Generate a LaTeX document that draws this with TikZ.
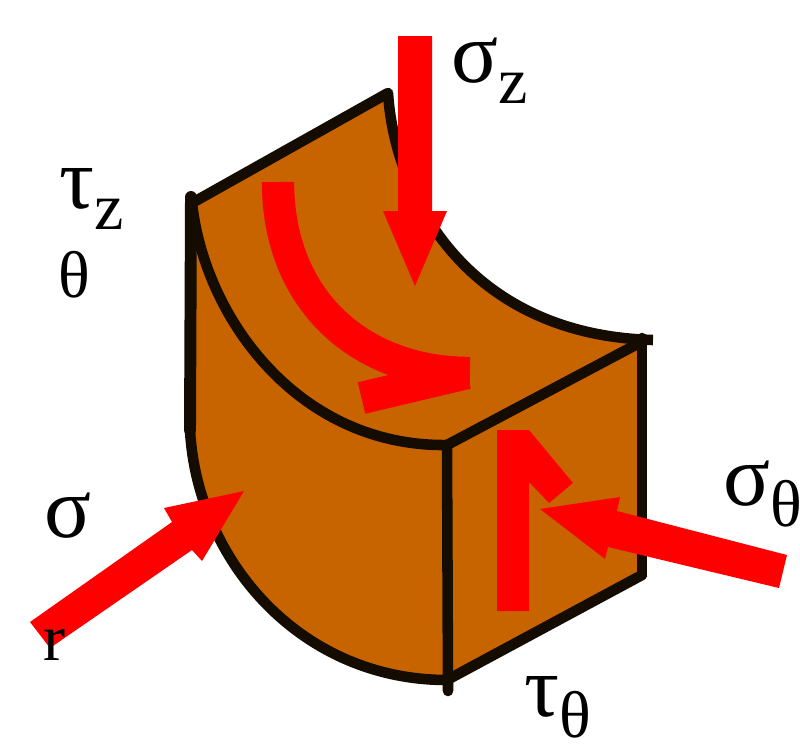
\documentclass[tikz,border=0pt]{standalone}
\usepackage{fontspec}
\setmainfont{Liberation Serif}
\usepackage{tikz}
\usepackage{tkz-euclide}
\usepackage{xcolor}
\definecolor{clay}{HTML}{C86400}
\definecolor{edgeblack}{HTML}{140C00}
\newcommand{\bigtxt}{\fontsize{62}{62}\selectfont}
\newcommand{\subtxt}[1]{\raisebox{-15pt}{\fontsize{47}{47}\selectfont #1}}
\tikzset{
  edge/.style={edgeblack, line width=7.5pt},
  face/.style={fill=clay, draw=none},
  force/.style={fill=red, draw=none},
  stress/.style={inner sep=0pt, anchor=base west}
}
\begin{document}
\begin{tikzpicture}[x=0.025cm, y=-0.025cm]
            \useasboundingbox (0,0) rectangle (800,744);
            \tkzDefPoints{192/203/A, 388/93/B, 645/340/C, 447/445/D, 190/430/E, 447/680/F, 642/575/G, 642/338/H, 448/691/I, 191/197/J}
            \fill[face] (A) -- (B) .. controls (395,200) and (470,335) .. (C) -- (D) .. controls (300,447) and (205,320) .. (A) -- cycle;
            \fill[face] (A) .. controls (205,320) and (300,447) .. (D) -- (F) .. controls (300,680) and (197,560) .. (E) -- cycle;
            \fill[face] (D) -- (H) -- (G) -- (F) -- cycle;
            \tkzDrawSegments[edge](A,B D,C H,G G,F D,I)
            \tkzDrawSegments[edge, line width=8.5pt](J,E)
            \draw[edge] (B) .. controls (395,200) and (470,335) .. (653,340);
            \draw[edge] (A) .. controls (205,320) and (300,447) .. (D);
            \draw[edge] (E) .. controls (197,560) and (300,680) .. (F);
            % arrows
            \fill[force] (398,36) -- (432,36) -- (432,211) -- (447,211) -- (415,286) -- (383,211) -- (398,211) -- cycle;
            \draw[red, line width=23pt] (278,182) .. controls (278,300) and (360,373) .. (470,373);
            \draw[red, line width=23pt] (361.5,398) -- (467,373);
            \fill[force] (497,611) -- (497,430) -- (529,430) -- (573,483) -- (549,503) -- (529,482) -- (529,611) -- cycle;
            \fill[force] (540,509) -- (620,497) -- (617,511) -- (787,555) -- (779,588) -- (608,547) -- (605,559) -- cycle;
            \fill[force] (244,491) -- (164,508) -- (172,522) -- (30,622) -- (50,648) -- (192,550) -- (202,561) -- cycle;
            % labels
            \node[stress] (sigmaz) at (451,82) {\bigtxt σ\subtxt{z}};
            \node[stress] (tauz) at (59,208) {\bigtxt τ\subtxt{z}};
            \node[stress] (thetaz) at (58,297) {\fontsize{47}{47}\selectfont θ};
            \node[stress] (sigmar) at (44,537) {\bigtxt σ};
            \node[stress] (radial) at (43,660) {\fontsize{47}{47}\selectfont r};
            \node[stress] (sigmat) at (723,505) {\bigtxt σ\subtxt{θ}};
            \node[stress] (taut) at (524,716) {\bigtxt τ\subtxt{θ}};
\end{tikzpicture}
\end{document}
